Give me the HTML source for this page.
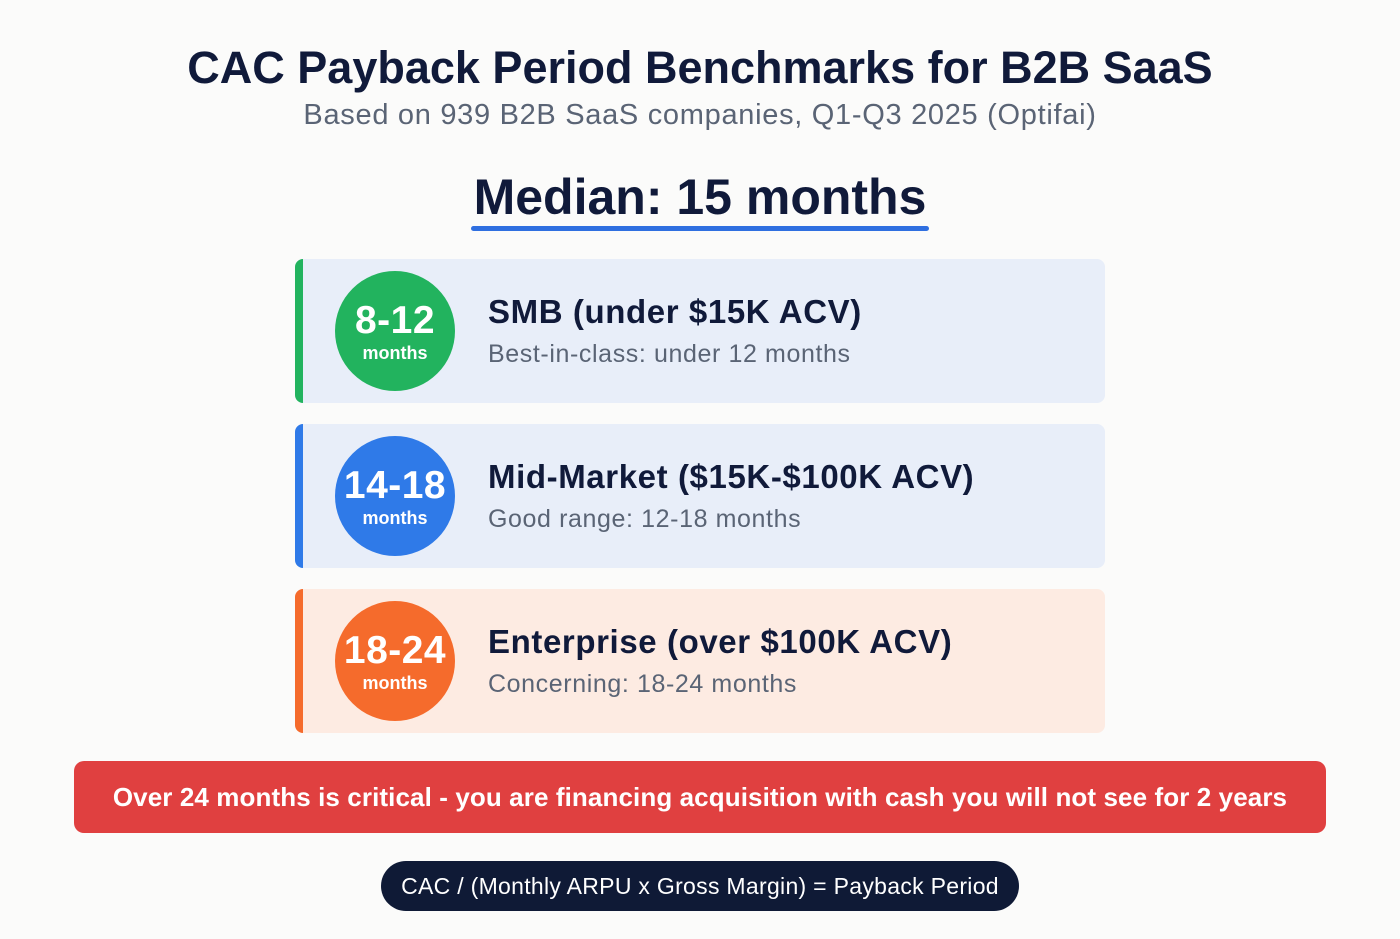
<!DOCTYPE html>
<html><head><meta charset="utf-8"><style>
*{margin:0;padding:0;box-sizing:border-box}
body{width:1400px;height:939px;background:#fbfbfa;font-family:"Liberation Sans","DejaVu Sans",sans-serif;position:relative;overflow:hidden}
.t{position:absolute;left:0;width:1400px;text-align:center}
.sub{top:99px;font-size:29px;letter-spacing:0.7px;color:#5a6475}
.med{top:168px;font-size:50px;font-weight:bold;color:#101a3a}
.ul{position:absolute;left:471px;top:226px;width:458px;height:5px;background:#2f6fe0;border-radius:3px}
.card{position:absolute;left:295px;width:810px;height:144px;border-radius:8px;overflow:hidden}
.card .bar{position:absolute;left:0;top:0;bottom:0;width:8px}
.circ{position:absolute;left:40px;top:12px;width:120px;height:120px;border-radius:50%;color:#fff;text-align:center}
.circ b{display:block;margin-top:30px;font-size:39px;line-height:40px;letter-spacing:0.5px}
.circ span{display:block;font-size:18px;font-weight:bold;margin-top:2px}
.h{position:absolute;left:193px;top:34px;font-size:33px;font-weight:bold;color:#101a3a;letter-spacing:0.6px}
.d{position:absolute;left:193px;top:81px;font-size:25px;color:#5a6475;letter-spacing:0.6px}
.warn{position:absolute;left:74px;top:761px;width:1252px;height:72px;background:#e04040;border-radius:10px;color:#fff;font-size:26px;font-weight:bold;text-align:center;line-height:72px;letter-spacing:0.1px}
.f{position:absolute;left:381px;top:861px;width:638px;height:50px;background:#0f1a36;border-radius:25px;color:#fff;font-size:23px;text-align:center;line-height:50px;letter-spacing:0.3px}
</style></head><body>
<div class="t" style="top:42px;font-size:45px;font-weight:bold;color:#101a3a">CAC Payback Period Benchmarks for B2B SaaS</div>
<div class="t sub">Based on 939 B2B SaaS companies, Q1-Q3 2025 (Optifai)</div>
<div class="t med">Median: 15 months</div>
<div class="ul"></div>

<div class="card" style="top:259px;background:#e8eef9"><div class="bar" style="background:#22b35e"></div>
<div class="circ" style="background:#22b35e"><b>8-12</b><span>months</span></div>
<div class="h">SMB (under $15K ACV)</div><div class="d">Best-in-class: under 12 months</div></div>

<div class="card" style="top:424px;background:#e8eef9"><div class="bar" style="background:#2f7ae8"></div>
<div class="circ" style="background:#2f7ae8"><b>14-18</b><span>months</span></div>
<div class="h">Mid-Market ($15K-$100K ACV)</div><div class="d">Good range: 12-18 months</div></div>

<div class="card" style="top:589px;background:#fdebe2"><div class="bar" style="background:#f56b2c"></div>
<div class="circ" style="background:#f56b2c"><b>18-24</b><span>months</span></div>
<div class="h">Enterprise (over $100K ACV)</div><div class="d">Concerning: 18-24 months</div></div>

<div class="warn">Over 24 months is critical - you are financing acquisition with cash you will not see for 2 years</div>
<div class="f">CAC / (Monthly ARPU x Gross Margin) = Payback Period</div>
</body></html>
